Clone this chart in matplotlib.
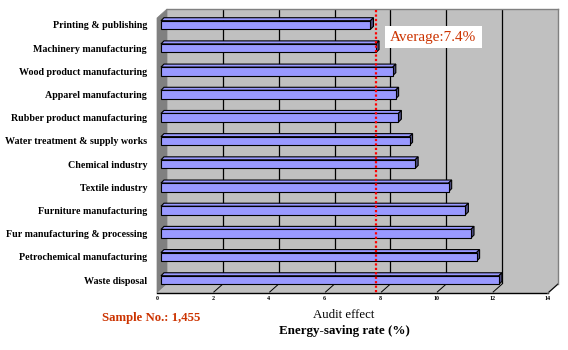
import matplotlib
matplotlib.use("Agg")
from matplotlib import pyplot as plt
from matplotlib.patches import Polygon, Rectangle
from matplotlib.lines import Line2D
from matplotlib.transforms import IdentityTransform, ScaledTranslation

# data (top to bottom as in the chart)
industries = ["Printing & publishing", "Machinery manufacturing",
              "Wood product manufacturing", "Apparel manufacturing",
              "Rubber product manufacturing", "Water treatment & supply works",
              "Chemical industry", "Textile industry", "Furniture manufacturing",
              "Fur manufacturing & processing", "Petrochemical manufacturing",
              "Waste disposal"]
rates = [7.5, 7.7, 8.3, 8.4, 8.5, 8.9, 9.1, 10.3, 10.9, 11.1, 11.3, 12.1]
average = 7.4
x_ticks = [0, 2, 4, 6, 8, 10, 12, 14]
sample_text = "Sample No.: 1,455"

W, H, DPI = 568, 350, 100
plt.rcParams['font.family'] = ['Liberation Serif', 'DejaVu Serif']

fig = plt.figure(figsize=(W / DPI, H / DPI), dpi=DPI)
fig.patch.set_facecolor("white")

# back wall of the 3d plot
ax = fig.add_axes([167 / W, 1 - 284 / H, 391 / W, 275 / H])
ax.set_facecolor("#c0c0c0")
ypos = [len(industries) - 1 - i for i in range(len(industries))]
bar_h = 0.37
ylo, yhi = -0.17, 11.69

def shifted(dx, dy):
    return ax.transData + ScaledTranslation(dx / DPI, dy / DPI, fig.dpi_scale_trans)

# bar faces
ax.barh(ypos, rates, height=bar_h, color="#9999ff", edgecolor="black",
        linewidth=0.8, transform=shifted(-6, 0), clip_on=False, zorder=4)
ax.set_xlim(0, 14)
ax.set_ylim(ylo, yhi)

for v in x_ticks[1:-1]:
    ax.axvline(v, color="black", linewidth=0.9, zorder=1)

for s in ["left", "bottom"]:
    ax.spines[s].set_visible(False)
for s in ["top", "right"]:
    ax.spines[s].set_color("#808080")
    ax.spines[s].set_linewidth(1)

ax.set_xticks([])
ax.set_yticks(ypos)
ax.set_yticklabels(industries, fontsize=7.2, fontweight="bold")
ax.tick_params(axis="y", length=0, pad=14.4)

def d(x, y, dx=0, dy=0):
    p = ax.transData.transform((x, y))
    return (p[0] + dx, p[1] + dy)

ident = IdentityTransform()
DX, DY = -10, -9  # depth of the floor / side wall

# left side wall
wall = Polygon([d(0, yhi), d(0, ylo), d(0, ylo, DX, DY), d(0, yhi, DX, DY)],
               closed=True, facecolor="#808080", edgecolor="#808080",
               linewidth=0.5, transform=ident, clip_on=False, zorder=0.5)
ax.add_patch(wall)

# floor
floor = Polygon([d(0, ylo), d(14, ylo), d(14, ylo, DX, DY), d(0, ylo, DX, DY)],
                closed=True, facecolor="#c0c0c0", edgecolor="none",
                transform=ident, clip_on=False, zorder=0.5)
ax.add_patch(floor)
ax.add_line(Line2D(*zip(d(0, ylo, DX, DY), d(14, ylo, DX, DY)), color="black",
                   linewidth=1, transform=ident, clip_on=False, zorder=2))
ax.add_line(Line2D(*zip(d(14, ylo), d(14, ylo, DX, DY)), color="#808080",
                   linewidth=1, transform=ident, clip_on=False, zorder=2))
for v in x_ticks[1:]:
    ax.add_line(Line2D(*zip(d(v, ylo, DX + 1, DY + 1), d(v, ylo)), color="black",
                       linewidth=0.7, transform=ident, clip_on=False, zorder=2))

for v in x_ticks:
    ax.text(v, ylo, str(v), transform=shifted(DX, DY - 5), fontsize=4.3,
            fontweight="bold", ha="center", va="center", clip_on=False)

# bar tops and end caps
for y, r in zip(ypos, rates):
    x0t = d(0, y + bar_h / 2, -6)
    x1t = d(r, y + bar_h / 2, -6)
    x1b = d(r, y - bar_h / 2, -6)
    top = Polygon([x0t, (x0t[0] + 3, x0t[1] + 3), (x1t[0] + 3, x1t[1] + 3), x1t],
                  closed=True, facecolor="#9999ff", edgecolor="black",
                  linewidth=0.8, transform=ident, clip_on=False, zorder=3.5)
    end = Polygon([x1t, (x1t[0] + 3, x1t[1] + 3), (x1b[0] + 3, x1b[1] + 3), x1b],
                  closed=True, facecolor="#4d4d80", edgecolor="black",
                  linewidth=0.8, transform=ident, clip_on=False, zorder=3.5)
    ax.add_patch(top)
    ax.add_patch(end)

# average line
a_top = d(average, yhi, 2, -1)
a_bot = d(average, ylo, 2, DY)
ax.add_line(Line2D([a_top[0], a_bot[0]], [a_top[1], a_bot[1]], color="#ff0000",
                   linewidth=1.6, linestyle=(0, (1, 1)), transform=ident,
                   clip_on=False, zorder=5))

box_l = a_top[0] + 9
fig.patches.append(Rectangle((box_l / W, 1 - 48 / H), 97 / W, 22 / H,
                             facecolor="white", edgecolor="none",
                             transform=fig.transFigure, zorder=6))
fig.text((box_l + 48.5) / W, 1 - 37 / H, "Average:%.1f%%" % average,
         color="#cc3300", fontsize=11, ha="center", va="center", zorder=7)

# labels
fig.text(344 / W, 1 - 315 / H, "Audit effect", fontsize=9.3,
         ha="center", va="center")
fig.text(344 / W, 1 - 331 / H, "Energy-saving rate (%)", fontsize=9.4,
         fontweight="bold", ha="center", va="center")
fig.text(102 / W, 1 - 318 / H, sample_text, fontsize=9.2, fontweight="bold",
         color="#cc3300", ha="left", va="center")

fig.savefig("out.png", dpi=DPI)
